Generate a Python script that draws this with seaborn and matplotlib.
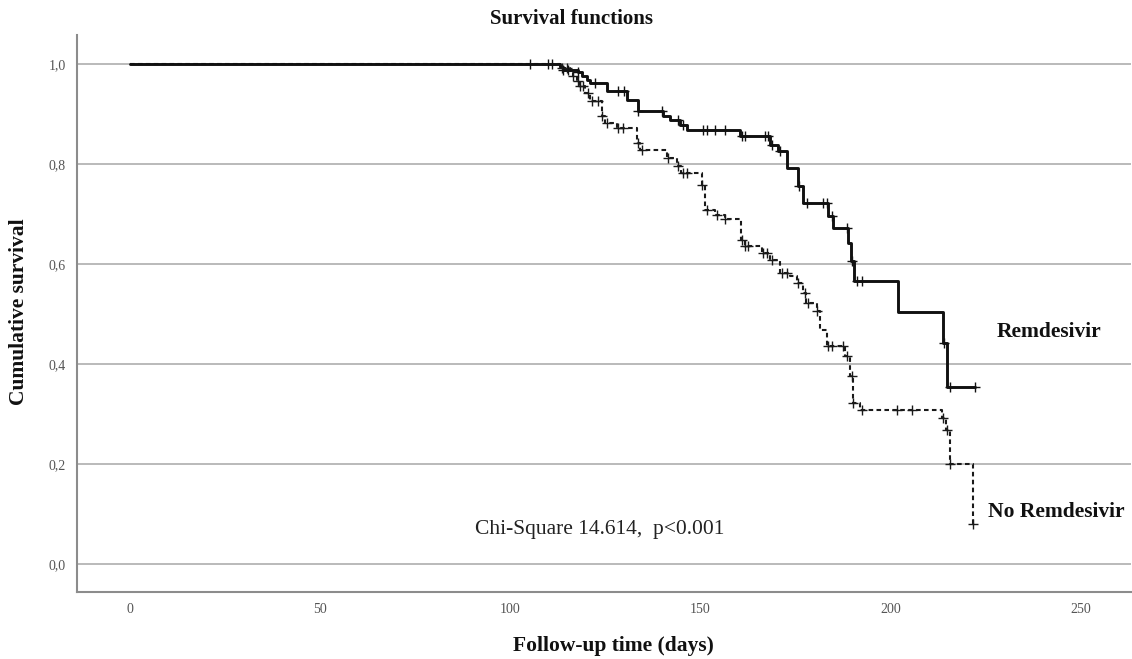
import numpy as np
import pandas as pd
import seaborn as sns
import matplotlib
matplotlib.use("Agg")
import matplotlib.pyplot as plt
from matplotlib.ticker import FuncFormatter

# ---- data ----
rem_times = [0, 113.0, 113.8, 117.7, 118.8, 120.1, 120.9, 125.4, 130.6, 133.5, 140.1,
             141.9, 144.5, 146.4, 160.3, 168.2, 170.3, 172.7, 175.6, 176.9, 183.5,
             184.8, 188.8, 189.6, 190.3, 201.8, 213.7, 214.7, 222.2]
rem_surv = [1.0, 0.993, 0.988, 0.983, 0.975, 0.968, 0.961, 0.945, 0.928, 0.905, 0.895,
            0.888, 0.878, 0.868, 0.856, 0.838, 0.825, 0.791, 0.755, 0.721, 0.695,
            0.672, 0.642, 0.605, 0.565, 0.503, 0.442, 0.353, 0.353]
rem_censor = [105.1, 109.9, 110.9, 113.8, 115.1, 117.7, 122.2, 128.3, 130.0, 133.5,
              139.8, 144.0, 145.3, 150.6, 151.6, 153.7, 156.4, 160.8, 161.6, 166.9,
              167.7, 168.7, 170.8, 175.9, 177.9, 182.1, 183.2, 184.5, 188.4, 189.7,
              191.1, 192.4, 213.9, 215.5, 222.2]

norem_times = [0, 113.0, 115.6, 116.4, 117.5, 118.3, 119.6, 120.9, 124.0, 124.8, 128.0,
               133.2, 134.0, 141.1, 143.8, 144.8, 150.3, 151.1, 153.7, 156.4, 160.6,
               161.6, 166.1, 168.2, 170.8, 173.4, 175.3, 176.9, 177.7, 180.6, 181.4,
               183.2, 187.9, 189.2, 190.0, 191.9, 213.4, 214.5, 215.5, 221.5]
norem_surv = [1.0, 0.991, 0.985, 0.975, 0.965, 0.955, 0.941, 0.925, 0.895, 0.881, 0.871,
              0.841, 0.828, 0.812, 0.795, 0.781, 0.758, 0.708, 0.698, 0.689, 0.648,
              0.635, 0.622, 0.608, 0.582, 0.575, 0.562, 0.541, 0.522, 0.505, 0.468,
              0.435, 0.415, 0.375, 0.321, 0.307, 0.292, 0.268, 0.199, 0.080]
norem_censor = [113.5, 114.8, 116.4, 117.7, 118.3, 119.1, 120.4, 121.4, 123.0, 124.0,
                125.4, 128.3, 129.6, 133.5, 134.6, 141.4, 144.0, 145.3, 146.4, 150.3,
                151.6, 154.3, 156.4, 160.8, 161.6, 162.4, 166.4, 167.4, 168.7, 171.4,
                172.7, 175.6, 177.4, 178.2, 180.6, 183.4, 184.5, 187.4, 188.4, 189.7,
                190.0, 192.4, 201.6, 205.5, 213.7, 214.7, 215.5, 221.5]

group_labels = ["Remdesivir", "No Remdesivir"]
title = "Survival functions"
xlabel = "Follow-up time (days)"
ylabel = "Cumulative survival"
stat_text = "Chi-Square 14.614,  p<0.001"
x_ticks = [0, 50, 100, 150, 200, 250]
y_ticks = [0.0, 0.2, 0.4, 0.6, 0.8, 1.0]


def censor_y(times, surv, cens):
    t = np.asarray(times)
    s = np.asarray(surv)
    idx = np.searchsorted(t, np.asarray(cens), side="right") - 1
    return s[idx]


sns.set_theme(style="white")
plt.rcParams["font.family"] = ["Liberation Serif", "DejaVu Serif"]

W, H = 1132, 659
fig = plt.figure(figsize=(W / 100, H / 100), dpi=100)
ax = fig.add_axes([0.068, 0.1017, 0.931, 0.8453])

# grid
for yv in y_ticks:
    ax.axhline(yv, color="#b4b4b4", linewidth=1.3, zorder=0)

df_no = pd.DataFrame({"t": norem_times, "s": norem_surv})
df_re = pd.DataFrame({"t": rem_times, "s": rem_surv})

sns.lineplot(data=df_no, x="t", y="s", drawstyle="steps-post", color="#1a1a1a",
             linewidth=1.5, linestyle=(0, (2.2, 1.6)), estimator=None, ax=ax, zorder=3)
sns.lineplot(data=df_re, x="t", y="s", drawstyle="steps-post", color="#111111",
             linewidth=2.1, estimator=None, ax=ax, zorder=4)

sns.scatterplot(x=norem_censor, y=censor_y(norem_times, norem_surv, norem_censor),
                marker="+", s=50, color="#1a1a1a", linewidth=1.0, ax=ax, zorder=5)
sns.scatterplot(x=rem_censor, y=censor_y(rem_times, rem_surv, rem_censor),
                marker="+", s=50, color="#111111", linewidth=1.0, ax=ax, zorder=5)

ax.set_xlim(-13.9, 263.1)
ax.set_ylim(-0.056, 1.058)
ax.set_xticks(x_ticks)
ax.set_yticks(y_ticks)
ax.yaxis.set_major_formatter(FuncFormatter(lambda v, p: f"{v:.1f}".replace(".", ",")))
ax.tick_params(axis="both", length=0, labelsize=10, labelcolor="#555555")
ax.tick_params(axis="y", pad=8)
ax.tick_params(axis="x", pad=8)

for side in ["top", "right"]:
    ax.spines[side].set_visible(False)
for side in ["left", "bottom"]:
    ax.spines[side].set_color("#8c8c8c")
    ax.spines[side].set_linewidth(1.5)

ax.set_xlabel("")
ax.set_ylabel("")
fig.text(613 / W, 1 - 646 / H, xlabel, ha="center", va="center",
         fontsize=15.5, fontweight="bold", color="#111111")
fig.text(19 / W, 1 - 312 / H, ylabel, ha="center", va="center", rotation=90,
         fontsize=15.5, fontweight="bold", color="#111111")
fig.text(572 / W, 1 - 19 / H, title, ha="center", va="center",
         fontsize=15, fontweight="bold", color="#111111")

ax.text(123.5, 0.068, stat_text, ha="center", va="center", fontsize=15.5, color="#222222")
ax.text(241.5, 0.464, group_labels[0], ha="center", va="center", fontsize=15.5,
        fontweight="bold", color="#111111")
ax.text(243.6, 0.104, group_labels[1], ha="center", va="center", fontsize=15.5,
        fontweight="bold", color="#111111")

fig.savefig("out.png", dpi=100)
